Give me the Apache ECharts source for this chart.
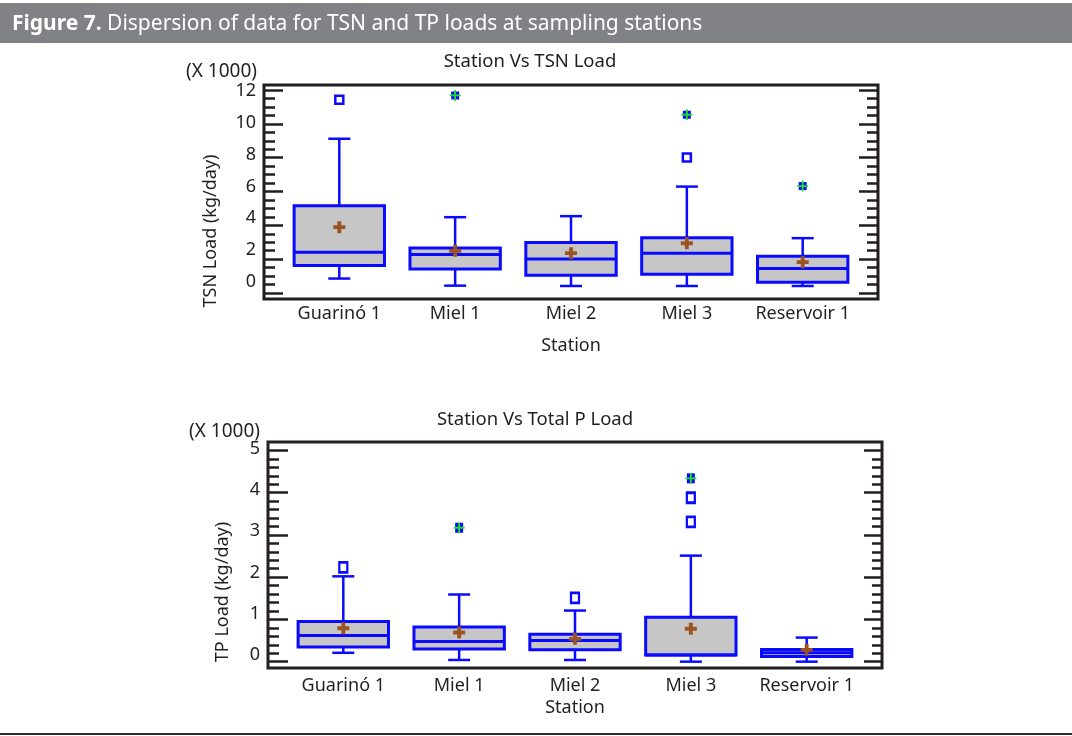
<!DOCTYPE html>
<html>
<head>
<meta charset="utf-8">
<script src="https://cdn.jsdelivr.net/npm/echarts@6/dist/echarts.min.js"></script>
<style>
  html, body { margin: 0; padding: 0; background: #fff; }
  #main { width: 1072px; height: 736px; }
</style>
</head>
<body>
<div id="main"></div>
<script>
// stations (x categories)
var stations = ['Guarinó 1', 'Miel 1', 'Miel 2', 'Miel 3', 'Reservoir 1'];

// TSN load, x 1000 kg/day
var tsnLow  = [0.85, 0.43, 0.41, 0.41, 0.41];
var tsnQ1   = [1.62, 1.42, 1.05, 1.11, 0.63];
var tsnMed  = [2.41, 2.27, 2.00, 2.35, 1.44];
var tsnQ3   = [5.15, 2.65, 2.98, 3.27, 2.17];
var tsnHigh = [9.12, 4.48, 4.54, 6.29, 3.24];
var tsnMean = [3.89, 2.49, 2.35, 2.94, 1.82];
var tsnOut  = [[1, 11.43], [4, 8.01]];
var tsnFar  = [[2, 11.68], [4, 10.54], [5, 6.32]];
var tsnMajor = [0, 2, 4, 6, 8, 10, 12];
var tsnMinor = [0.5, 1, 1.5, 2.5, 3, 3.5, 4.5, 5, 5.5, 6.5, 7, 7.5, 8.5, 9, 9.5, 10.5, 11, 11.5];

// TP load, x 1000 kg/day
var tpLow  = [0.21, 0.04, 0.04, 0.00, 0.00];
var tpQ1   = [0.35, 0.30, 0.28, 0.16, 0.12];
var tpMed  = [0.62, 0.48, 0.50, 0.16, 0.21];
var tpQ3   = [0.95, 0.82, 0.65, 1.05, 0.29];
var tpHigh = [2.02, 1.59, 1.21, 2.51, 0.57];
var tpMean = [0.79, 0.69, 0.54, 0.78, 0.28];
var tpOut  = [[1, 2.23], [3, 1.51], [4, 3.31], [4, 3.88]];
var tpFar  = [[2, 3.17], [4, 4.34]];
var tpMajor = [0, 1, 2, 3, 4, 5];
var tpMinor = [0.2, 0.4, 0.6, 0.8, 1.2, 1.4, 1.6, 1.8, 2.2, 2.4, 2.6, 2.8, 3.2, 3.4, 3.6, 3.8, 4.2, 4.4, 4.6, 4.8];

var BLUE = '#0a0aff';
var INK = '#231f20';
var FONT = '"Noto Sans", "Open Sans", sans-serif';
var BOX_W = 0.78;
var CAP_W = 0.19;
var PLUS_THICK = 'path://M3.4,0 H6.6 V3.4 H10 V6.6 H6.6 V10 H3.4 V6.6 H0 V3.4 H3.4 Z';
var PLUS_THIN = 'path://M4.2,0 H5.8 V4.2 H10 V5.8 H5.8 V10 H4.2 V5.8 H0 V4.2 H4.2 Z';

function boxData(lo, q1, md, q3, hi) {
	var out = [];
	for (var i = 0; i < stations.length; i++) {
		out.push([i + 1, lo[i], q1[i], md[i], q3[i], hi[i]]);
	}
	return out;
}
function meanData(m) {
	return m.map(function (v, i) { return [i + 1, v]; });
}

function renderBox(params, api) {
	var x = api.value(0);
	var lo = api.coord([x, api.value(1)]);
	var q1 = api.coord([x, api.value(2)]);
	var md = api.coord([x, api.value(3)]);
	var q3 = api.coord([x, api.value(4)]);
	var hi = api.coord([x, api.value(5)]);
	var w = api.size([BOX_W, 0])[0];
	var c = api.size([CAP_W, 0])[0];
	var cx = lo[0];
	var line = { stroke: BLUE, lineWidth: 2.5 };
	return {
		type: 'group',
		children: [
			{ type: 'line', shape: { x1: cx, y1: hi[1], x2: cx, y2: q3[1] }, style: line },
			{ type: 'line', shape: { x1: cx, y1: q1[1], x2: cx, y2: lo[1] }, style: line },
			{ type: 'line', shape: { x1: cx - c / 2, y1: hi[1], x2: cx + c / 2, y2: hi[1] }, style: line },
			{ type: 'line', shape: { x1: cx - c / 2, y1: lo[1], x2: cx + c / 2, y2: lo[1] }, style: line },
			{ type: 'rect', shape: { x: cx - w / 2, y: q3[1], width: w, height: q1[1] - q3[1] },
			  style: { fill: '#c6c6c6', stroke: BLUE, lineWidth: 3 } },
			{ type: 'line', shape: { x1: cx - w / 2, y1: md[1], x2: cx + w / 2, y2: md[1] }, style: { stroke: BLUE, lineWidth: 3 } }
		]
	};
}

function xAxisFor(g, margin, gap) {
	return {
		type: 'value', gridIndex: g, min: 0.35, max: 5.65,
		axisLine: { show: false }, axisTick: { show: false }, splitLine: { show: false },
		axisLabel: {
			customValues: [1, 2, 3, 4, 5], margin: margin,
			color: INK, fontSize: 18, fontFamily: FONT,
			formatter: function (v) { return stations[Math.round(v) - 1] || ''; }
		},
		name: 'Station', nameLocation: 'middle', nameGap: gap,
		nameTextStyle: { color: INK, fontSize: 18, fontFamily: FONT }
	};
}

// tick-only axis
function yTicks(g, pos, min, max, ticks, len) {
	return {
		type: 'value', gridIndex: g, position: pos, min: min, max: max,
		axisLine: { show: false }, splitLine: { show: false },
		axisTick: { show: true, inside: true, length: len, customValues: ticks,
			lineStyle: { color: INK, width: 2.5 } },
		axisLabel: { show: false }
	};
}
// label-only axis (the printed labels sit a little off the ticks)
function yLabels(g, min, max, ticks) {
	return {
		type: 'value', gridIndex: g, position: 'left', min: min, max: max,
		axisLine: { show: false }, splitLine: { show: false }, axisTick: { show: false },
		axisLabel: { show: true, customValues: ticks, margin: 8,
			color: INK, fontSize: 18, fontFamily: FONT }
	};
}

function seriesFor(xi, yi, lo, q1, md, q3, hi, mean, outl, far, sq) {
	return [
		{ type: 'custom', xAxisIndex: xi, yAxisIndex: yi, renderItem: renderBox,
		  encode: { x: 0, y: [1, 2, 3, 4, 5] }, data: boxData(lo, q1, md, q3, hi), z: 2 },
		{ type: 'scatter', xAxisIndex: xi, yAxisIndex: yi, symbol: 'rect', symbolSize: sq,
		  itemStyle: { color: '#fff', borderColor: BLUE, borderWidth: 2.5, opacity: 1 }, data: outl, z: 3 },
		{ type: 'scatter', xAxisIndex: xi, yAxisIndex: yi, symbol: 'rect', symbolSize: sq,
		  itemStyle: { color: BLUE, opacity: 1 }, data: far, z: 3 },
		{ type: 'scatter', xAxisIndex: xi, yAxisIndex: yi, symbol: PLUS_THIN, symbolSize: 11,
		  itemStyle: { color: '#22e022', opacity: 1 }, data: far, z: 4 },
		{ type: 'scatter', xAxisIndex: xi, yAxisIndex: yi, symbol: PLUS_THICK, symbolSize: 12,
		  itemStyle: { color: '#9a5424', opacity: 1 }, data: meanData(mean), z: 4 }
	];
}

var chart = echarts.init(document.getElementById('main'));

var option = {
	animation: false,
	backgroundColor: '#fff',
	grid: [
		{ left: 264, top: 85, width: 614, height: 214, show: true, borderColor: INK, borderWidth: 3, backgroundColor: 'transparent' },
		{ left: 268, top: 442, width: 614, height: 226, show: true, borderColor: INK, borderWidth: 3, backgroundColor: 'transparent' }
	],
	xAxis: [xAxisFor(0, 6, 38), xAxisFor(1, 9, 31)],
	yAxis: [
		yTicks(0, 'left', -0.36, 12.3, tsnMajor, 19),
		yTicks(0, 'left', -0.36, 12.3, tsnMinor, 11),
		yTicks(0, 'right', -0.36, 12.3, tsnMajor, 19),
		yTicks(0, 'right', -0.36, 12.3, tsnMinor, 11),
		yLabels(0, -1.07, 12.38, tsnMajor),
		yTicks(1, 'left', -0.15, 5.2, tpMajor, 20),
		yTicks(1, 'left', -0.15, 5.2, tpMinor, 11),
		yTicks(1, 'right', -0.15, 5.2, tpMajor, 18),
		yTicks(1, 'right', -0.15, 5.2, tpMinor, 10),
		yLabels(1, -0.32, 5.17, tpMajor)
	],
	series: [].concat(
		seriesFor(0, 0, tsnLow, tsnQ1, tsnMed, tsnQ3, tsnHigh, tsnMean, tsnOut, tsnFar, [8, 8]),
		seriesFor(1, 5, tpLow, tpQ1, tpMed, tpQ3, tpHigh, tpMean, tpOut, tpFar, [8, 10])
	),
	graphic: [
		{ type: 'rect', shape: { x: 0, y: 3, width: 1072, height: 40 }, style: { fill: '#808285' }, silent: true },
		{ type: 'text', x: 12, y: 24, style: {
			text: '{b|Figure 7.} Dispersion of data for TSN and TP loads at sampling stations',
			fill: '#fff', font: '21px ' + FONT, verticalAlign: 'middle',
			rich: { b: { fontWeight: 'bold', fontSize: 21, fontFamily: FONT, fill: '#fff', color: '#fff' } }
		} },
		{ type: 'line', shape: { x1: 0, y1: 734, x2: 1072, y2: 734 }, style: { stroke: '#2e2e2e', lineWidth: 2 } },
		{ type: 'text', x: 530, y: 62, style: { text: 'Station Vs TSN Load', fill: INK, font: '18.5px ' + FONT, align: 'center', verticalAlign: 'middle' } },
		{ type: 'text', x: 535, y: 420, style: { text: 'Station Vs Total P Load', fill: INK, font: '18.5px ' + FONT, align: 'center', verticalAlign: 'middle' } },
		{ type: 'text', x: 186, y: 72, style: { text: '(X 1000)', fill: INK, font: '19px ' + FONT, verticalAlign: 'middle' } },
		{ type: 'text', x: 189, y: 432, style: { text: '(X 1000)', fill: INK, font: '19px ' + FONT, verticalAlign: 'middle' } },
		{ type: 'text', x: 211, y: 231, rotation: Math.PI / 2, style: { text: 'TSN Load (kg/day)', fill: INK, font: '18px ' + FONT, align: 'center', verticalAlign: 'middle' } },
		{ type: 'text', x: 223, y: 592, rotation: Math.PI / 2, style: { text: 'TP Load (kg/day)', fill: INK, font: '18px ' + FONT, align: 'center', verticalAlign: 'middle' } }
	]
};

chart.setOption(option);
</script>
</body>
</html>
